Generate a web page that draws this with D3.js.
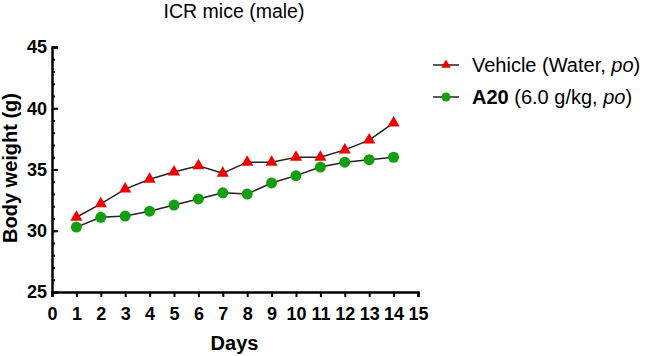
<!DOCTYPE html>
<html>
<head>
<meta charset="utf-8">
<script src="https://cdn.jsdelivr.net/npm/d3@7"></script>
<style>
  body { margin: 0; background: #fff; }
  text { font-family: Arial, "Liberation Sans", sans-serif; }
</style>
</head>
<body>
<div id="mainbox"></div>
<script>
// data
const days = [1, 2, 3, 4, 5, 6, 7, 8, 9, 10, 11, 12, 13, 14];
const vehicle = [31.1, 32.2, 33.4, 34.2, 34.8, 35.3, 34.7, 35.6, 35.6, 36.0, 36.0, 36.6, 37.4, 38.8];
const a20 = [30.3, 31.1, 31.2, 31.6, 32.1, 32.6, 33.1, 33.0, 33.9, 34.5, 35.2, 35.6, 35.8, 36.0];
const xTicks = d3.range(0, 16);
const yTicks = [25, 30, 35, 40, 45];

const w_svg = 645, h_svg = 356;
const margin = {t: 47, r: 227, b: 64, l: 52};
const w = w_svg - margin.l - margin.r,
      h = h_svg - margin.t - margin.b;

let svgMain = d3.select('#mainbox')
  .append('svg')
  .attr('width', w_svg)
  .attr('height', h_svg);

let plot = svgMain.append('g')
  .attr('transform', `translate(${margin.l},${margin.t})`);

const scaleX = d3.scaleLinear().domain([0, 15]).range([0, w]);
const scaleY = d3.scaleLinear().domain([25, 45]).range([h, 0]);

// y axis - ticks point inward
const axisY = d3.axisRight(scaleY).tickValues(yTicks).tickSize(6).tickFormat('');
const axisYMinor = d3.axisRight(scaleY).tickValues(d3.range(25, 46)).tickSize(3).tickFormat('');
plot.append('g').attr('class', 'axis axis-y-minor').call(axisYMinor);
plot.append('g').attr('class', 'axis axis-y').call(axisY);
plot.selectAll('.axis-y-minor .domain').remove();

plot.selectAll('.ylab')
  .data(yTicks)
  .enter()
  .append('text')
  .attr('class', 'ylab')
  .attr('x', -5)
  .attr('y', d => scaleY(d))
  .attr('dy', '0.36em')
  .attr('text-anchor', 'end')
  .attr('font-size', 18)
  .attr('font-weight', 'bold')
  .text(d => d);

// x axis
const axisX = d3.axisBottom(scaleX).tickValues(xTicks).tickSize(5).tickPadding(10);
plot.append('g')
  .attr('class', 'axis axis-x')
  .attr('transform', `translate(0,${h})`)
  .call(axisX);

plot.selectAll('.axis-x text')
  .attr('font-size', 18)
  .attr('font-weight', 'bold')
  .attr('fill', '#000');

plot.selectAll('.axis path, .axis line')
  .attr('stroke', '#000')
  .attr('stroke-width', 2);
plot.selectAll('.axis .domain').attr('stroke-width', 2.5);

// lines
const line = d3.line().x((d, i) => scaleX(days[i])).y(d => scaleY(d));
[vehicle, a20].forEach(s => {
  plot.append('path')
    .datum(s)
    .attr('d', line)
    .attr('fill', 'none')
    .attr('stroke', '#222')
    .attr('stroke-width', 1.5);
});

const tri = d3.symbol().type(d3.symbolTriangle).size(64);
plot.selectAll('.tri')
  .data(vehicle)
  .enter()
  .append('path')
  .attr('class', 'tri')
  .attr('d', tri)
  .attr('transform', (d, i) => `translate(${scaleX(days[i])},${scaleY(d)})`)
  .attr('fill', '#ee0000');

plot.selectAll('.circle')
  .data(a20)
  .enter()
  .append('circle')
  .attr('class', 'circle')
  .attr('cx', (d, i) => scaleX(days[i]))
  .attr('cy', d => scaleY(d))
  .attr('r', 5.5)
  .attr('fill', '#119e11');

// titles
svgMain.append('text')
  .attr('x', 234).attr('y', 18)
  .attr('text-anchor', 'middle')
  .attr('font-size', 19.5)
  .text('ICR mice (male)');

svgMain.append('text')
  .attr('x', 234.5).attr('y', 350)
  .attr('text-anchor', 'middle')
  .attr('font-size', 20)
  .attr('font-weight', 'bold')
  .text('Days');

svgMain.append('text')
  .attr('transform', 'translate(17,168) rotate(-90)')
  .attr('text-anchor', 'middle')
  .attr('font-size', 20)
  .attr('font-weight', 'bold')
  .text('Body weight (g)');

// legend
const legend = svgMain.append('g');
const rows = [65, 97];
rows.forEach(y => {
  legend.append('line')
    .attr('x1', 433).attr('x2', 459)
    .attr('y1', y).attr('y2', y)
    .attr('stroke', '#222').attr('stroke-width', 1.5);
});
legend.append('path')
  .attr('d', d3.symbol().type(d3.symbolTriangle).size(40))
  .attr('transform', `translate(446,${rows[0]})`)
  .attr('fill', '#ee0000');
legend.append('circle')
  .attr('cx', 446).attr('cy', rows[1]).attr('r', 4.5)
  .attr('fill', '#119e11');

const t1 = legend.append('text')
  .attr('x', 472).attr('y', rows[0]).attr('dy', '0.36em')
  .attr('font-size', 20);
t1.append('tspan').text('Vehicle (Water, ');
t1.append('tspan').attr('font-style', 'italic').text('po');
t1.append('tspan').text(')');

const t2 = legend.append('text')
  .attr('x', 472).attr('y', rows[1]).attr('dy', '0.36em')
  .attr('font-size', 20);
t2.append('tspan').attr('font-weight', 'bold').text('A20');
t2.append('tspan').text(' (6.0 g/kg, ');
t2.append('tspan').attr('font-style', 'italic').text('po');
t2.append('tspan').text(')');
</script>
</body>
</html>
